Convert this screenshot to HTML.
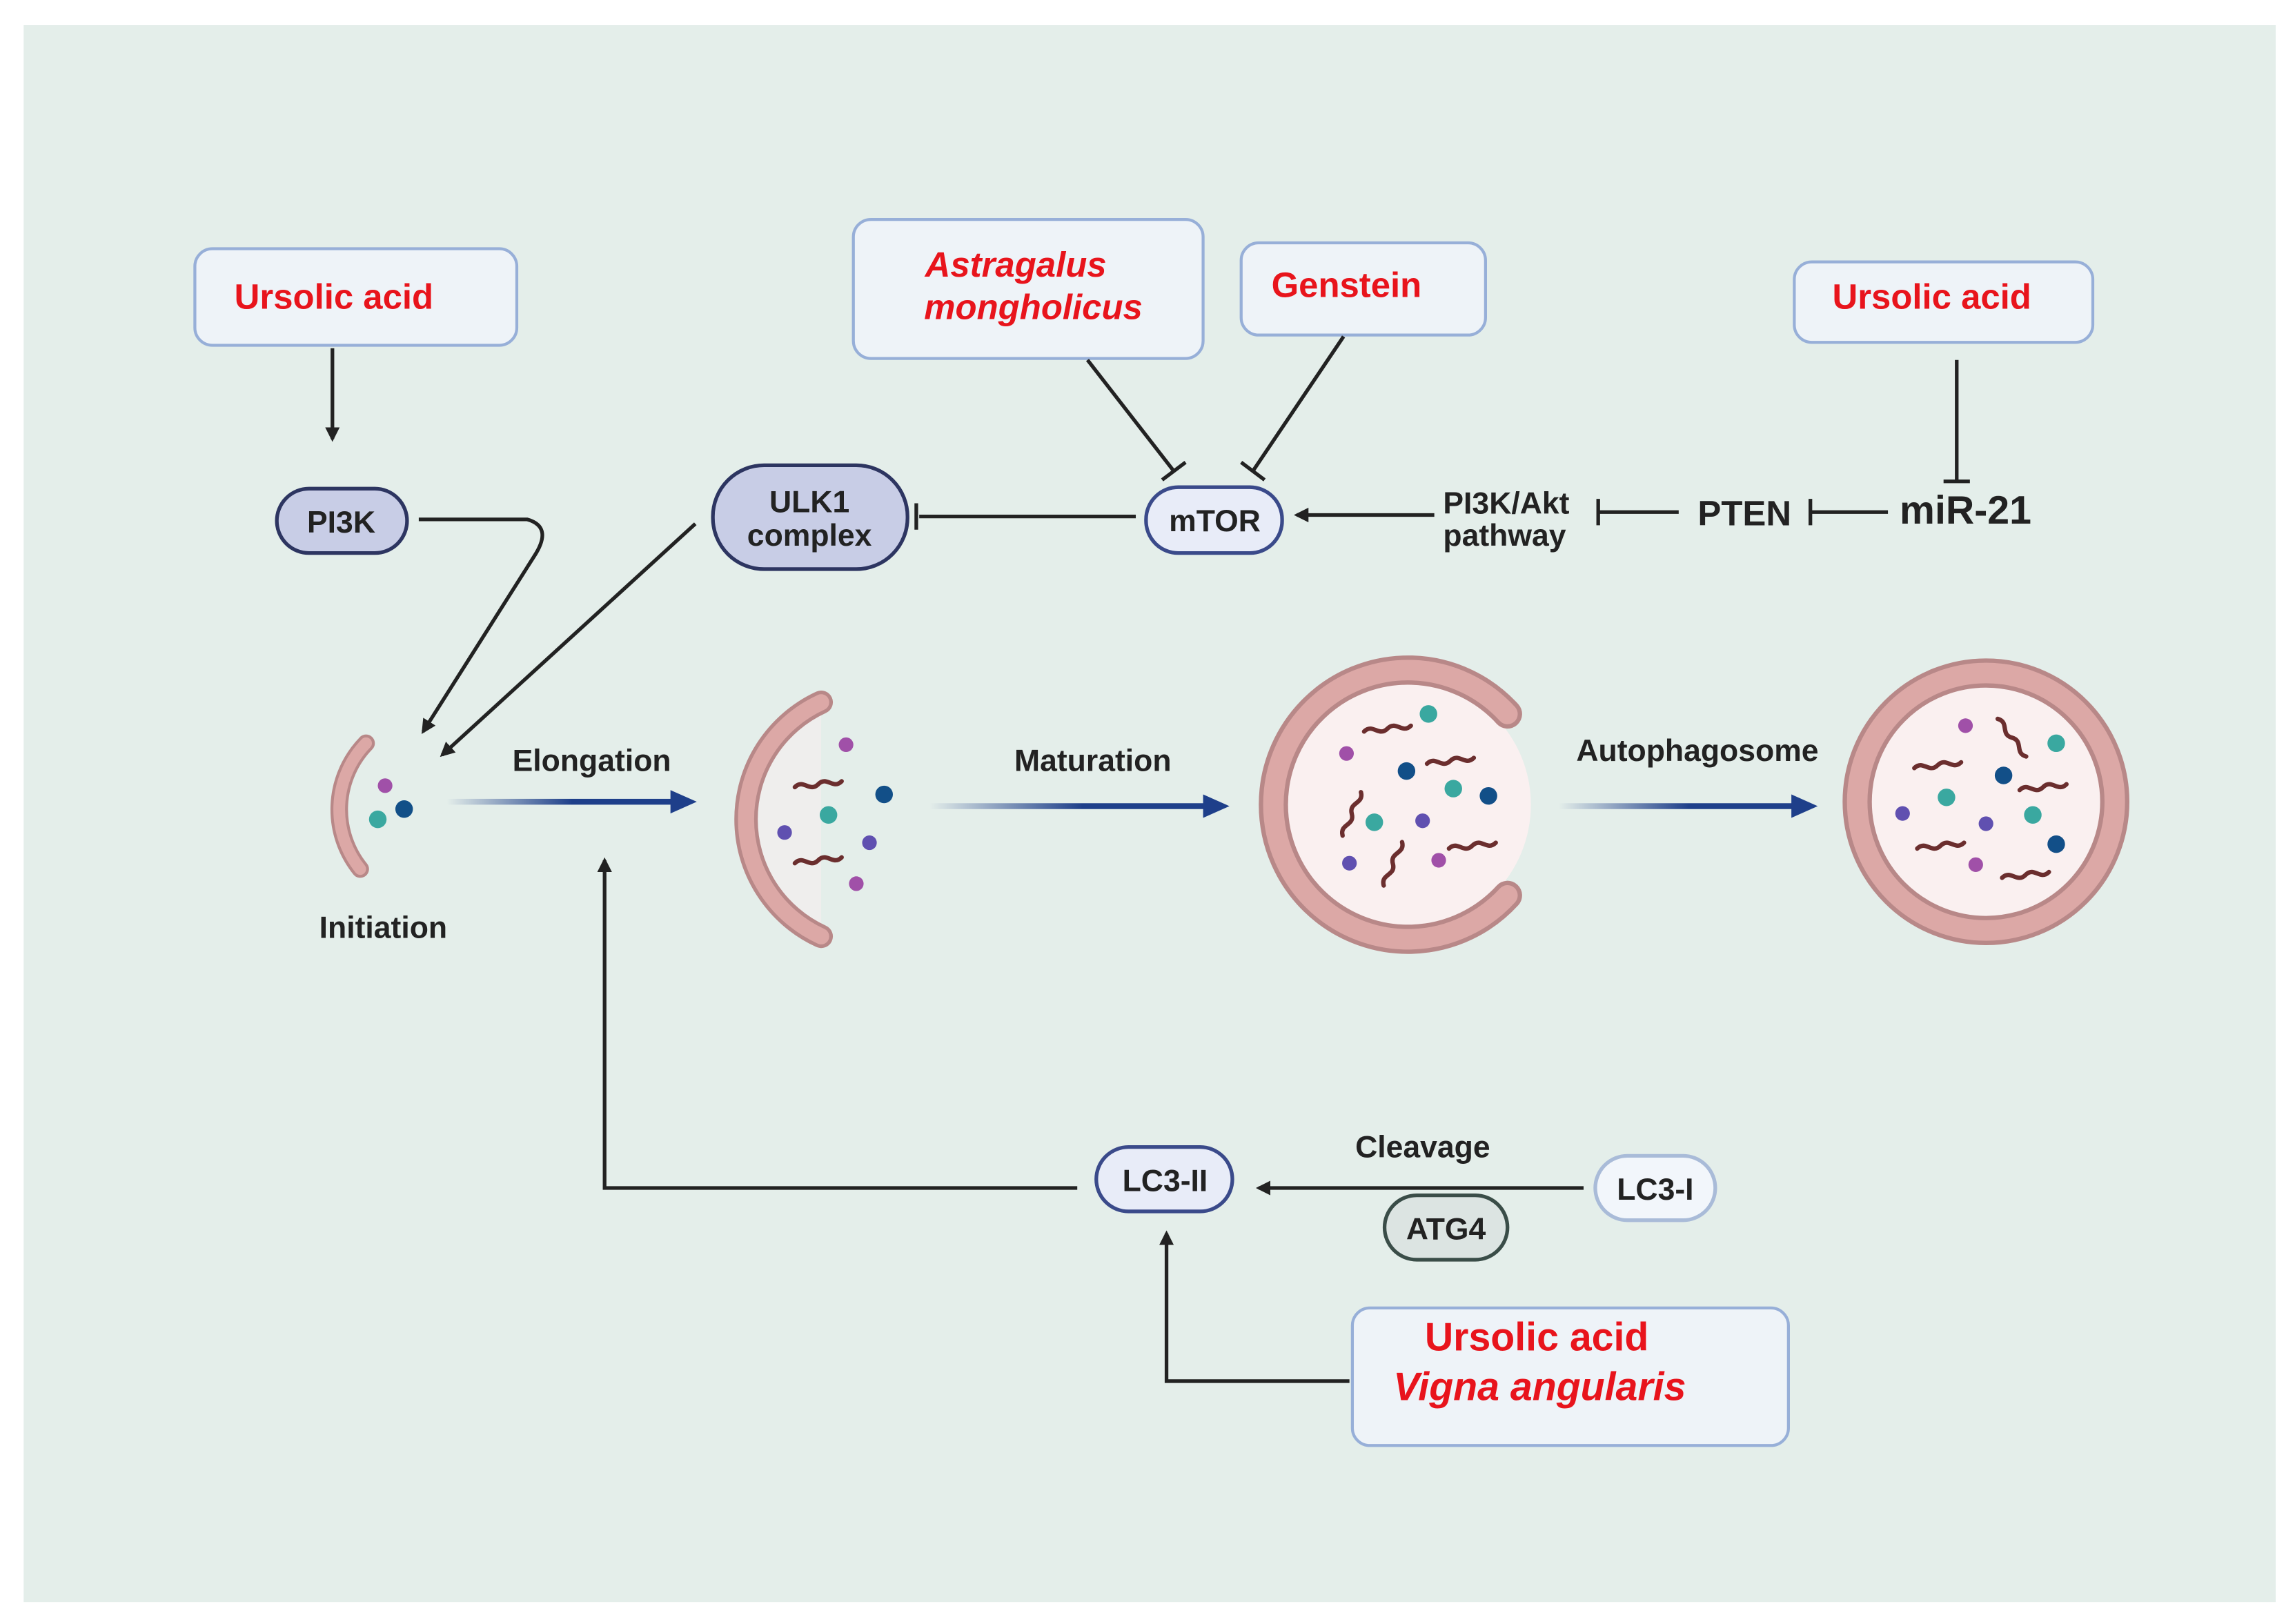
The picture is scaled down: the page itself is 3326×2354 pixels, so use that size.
<!DOCTYPE html>
<html><head><meta charset="utf-8"><style>
html,body{margin:0;padding:0;background:#fff}
svg{display:block}
text{font-family:"Liberation Sans",Arial,sans-serif;font-weight:bold}
</style></head><body>
<svg width="3326" height="2354" viewBox="0 0 1568 1110" xmlns="http://www.w3.org/2000/svg">
<defs>
<marker id="ah" markerWidth="10" markerHeight="10" refX="8" refY="5" orient="auto" markerUnits="userSpaceOnUse" viewBox="0 0 10 10"><path d="M0,0 L10,5 L0,10 z" fill="#222"/></marker>
<linearGradient id="gb" x1="0" x2="1" y1="0" y2="0"><stop offset="0" stop-color="#1e3f8a" stop-opacity="0"/><stop offset="0.55" stop-color="#1e3f8a"/></linearGradient>
<g id="wig"><path d="M0,0 c6,-6 10,4 16,-2 c6,-6 10,4 16,-2" fill="none" stroke="#6b2e2e" stroke-width="3" stroke-linecap="round"/></g>
</defs>
<rect x="0" y="0" width="1568" height="1110" fill="#fff"/>
<rect x="16" y="17" width="1539" height="1078" fill="#e4eeea"/>

<!-- boxes -->
<g fill="#eef3f8" stroke="#97afd8" stroke-width="2">
<rect x="133" y="170" width="220" height="66" rx="12"/>
<rect x="583" y="150" width="239" height="95" rx="12"/>
<rect x="848" y="166" width="167" height="63" rx="12"/>
<rect x="1226" y="179" width="204" height="55" rx="12"/>
<rect x="924" y="894" width="298" height="94" rx="12"/>
</g>
<g fill="#e8141c" font-size="24">
<text x="160" y="211">Ursolic acid</text>
<text x="694" y="189" text-anchor="middle" font-style="italic">Astragalus</text>
<text x="706" y="218" text-anchor="middle" font-style="italic">mongholicus</text>
<text x="920" y="203" text-anchor="middle">Genstein</text>
<text x="1320" y="211" text-anchor="middle">Ursolic acid</text>
<text x="1050" y="923" text-anchor="middle" font-size="27">Ursolic acid</text>
<text x="1052" y="957" text-anchor="middle" font-size="27" font-style="italic">Vigna angularis</text>
</g>

<!-- pills -->
<rect x="189" y="334" width="89" height="44" rx="22" fill="#c8cde6" stroke="#2d3561" stroke-width="2.5"/>
<text x="233" y="364" text-anchor="middle" font-size="21" fill="#222">PI3K</text>
<rect x="487" y="318" width="133" height="71" rx="35" fill="#c8cde6" stroke="#2d3561" stroke-width="2.5"/>
<text x="553" y="350" text-anchor="middle" font-size="21" fill="#222">ULK1</text>
<text x="553" y="373" text-anchor="middle" font-size="21" fill="#222">complex</text>
<rect x="783" y="333" width="93" height="45" rx="22" fill="#e8ecf8" stroke="#3a4a8a" stroke-width="2.5"/>
<text x="830" y="363" text-anchor="middle" font-size="21" fill="#222">mTOR</text>
<rect x="749" y="784" width="93" height="44" rx="22" fill="#e8ecf8" stroke="#3a4a8a" stroke-width="2.5"/>
<text x="796" y="814" text-anchor="middle" font-size="21" fill="#222">LC3-II</text>
<rect x="1090" y="790" width="82" height="44" rx="22" fill="#f2f6fb" stroke="#a9bbd8" stroke-width="2.5"/>
<text x="1131" y="820" text-anchor="middle" font-size="21" fill="#222">LC3-I</text>
<rect x="946" y="817" width="84" height="44" rx="22" fill="#dce4e2" stroke="#3a4d48" stroke-width="2.5"/>
<text x="988" y="847" text-anchor="middle" font-size="21" fill="#222">ATG4</text>

<!-- text labels -->
<g fill="#222" font-size="21">
<text x="986" y="351">PI3K/Akt</text>
<text x="986" y="373">pathway</text>
<text x="1160" y="359" font-family="Liberation Serif" font-weight="normal" font-size="24">PTEN</text>
<text x="1298" y="358" font-size="27">miR-21</text>
<text x="350" y="527">Elongation</text>
<text x="693" y="527">Maturation</text>
<text x="1077" y="520">Autophagosome</text>
<text x="218" y="641">Initiation</text>
<text x="926" y="791">Cleavage</text>
</g>

<!-- connectors -->
<g stroke="#222" stroke-width="2.5" fill="none">
<path d="M227,238 V300" marker-end="url(#ah)"/>
<path d="M286,355 H360 Q378,360 365,380 L289,500" marker-end="url(#ah)"/>
<path d="M475,358 L302,516" marker-end="url(#ah)"/>
<path d="M776,353 H628 M626,344 V362"/>
<path d="M743,246 L802,322 M794,328 L810,316"/>
<path d="M918,230 L856,322 M848,316 L864,328"/>
<path d="M980,352 H886" marker-end="url(#ah)"/>
<path d="M1147,350 H1093 M1092,341 V359"/>
<path d="M1290,350 H1238 M1237,341 V359"/>
<path d="M1337,246 V328 M1328,329 H1346"/>
<path d="M1082,812 H860" marker-end="url(#ah)"/>
<path d="M736,812 H413 V588" marker-end="url(#ah)"/>
<path d="M922,944 H797 V843" marker-end="url(#ah)"/>
</g>

<!-- blue arrows -->
<rect x="305" y="546" width="156" height="4" fill="url(#gb)"/>
<path d="M458,540 L476,548 L458,556 z" fill="#1e3f8a"/>
<rect x="635" y="549" width="190" height="4" fill="url(#gb)"/>
<path d="M822,543 L840,551 L822,559 z" fill="#1e3f8a"/>
<rect x="1065" y="549" width="162" height="4" fill="url(#gb)"/>
<path d="M1224,543 L1242,551 L1224,559 z" fill="#1e3f8a"/>

<!-- vesicles -->
<!-- initiation -->
<path d="M250,508 A65,65 0 0 0 246,594" fill="none" stroke="#b88888" stroke-width="12" stroke-linecap="round"/>
<path d="M250,508 A65,65 0 0 0 246,594" fill="none" stroke="#dca8a6" stroke-width="8" stroke-linecap="round"/>
<circle cx="263" cy="537" r="5" fill="#a050a8"/><circle cx="258" cy="560" r="6" fill="#3aa8a0"/><circle cx="276" cy="553" r="6" fill="#124f88"/>
<!-- elongation -->
<path d="M561,480 A88,88 0 0 0 561,640 Z" fill="#f7eeee" opacity="0.6"/>
<path d="M561,480 A88,88 0 0 0 561,640" fill="none" stroke="#b88888" stroke-width="16" stroke-linecap="round"/>
<path d="M561,480 A88,88 0 0 0 561,640" fill="none" stroke="#dca8a6" stroke-width="11" stroke-linecap="round"/>
<circle cx="578" cy="509" r="5" fill="#a050a8"/><circle cx="604" cy="543" r="6" fill="#124f88"/><circle cx="566" cy="557" r="6" fill="#3aa8a0"/>
<circle cx="536" cy="569" r="5" fill="#6050b0"/><circle cx="594" cy="576" r="5" fill="#6050b0"/><circle cx="585" cy="604" r="5" fill="#a050a8"/>
<use href="#wig" x="543" y="538"/><use href="#wig" x="543" y="590"/>
<!-- maturation -->
<circle cx="960" cy="550" r="86" fill="#faf0f0"/>
<path d="M1030,488 A92,92 0 1 0 1030,612" fill="none" stroke="#b88888" stroke-width="20" stroke-linecap="round"/>
<path d="M1030,488 A92,92 0 1 0 1030,612" fill="none" stroke="#dca8a6" stroke-width="14" stroke-linecap="round"/>
<circle cx="976" cy="488" r="6" fill="#3aa8a0"/><circle cx="961" cy="527" r="6" fill="#124f88"/><circle cx="993" cy="539" r="6" fill="#3aa8a0"/>
<circle cx="1017" cy="544" r="6" fill="#124f88"/><circle cx="939" cy="562" r="6" fill="#3aa8a0"/><circle cx="972" cy="561" r="5" fill="#6050b0"/>
<circle cx="920" cy="515" r="5" fill="#a050a8"/><circle cx="922" cy="590" r="5" fill="#6050b0"/><circle cx="983" cy="588" r="5" fill="#a050a8"/>
<use href="#wig" x="932" y="500"/><use href="#wig" x="975" y="522"/><use href="#wig" x="908" y="565" transform="rotate(-60 918 560)"/><use href="#wig" x="990" y="580"/><use href="#wig" x="932" y="598" transform="rotate(-60 945 590)"/>
<!-- autophagosome -->
<circle cx="1357" cy="548" r="88" fill="#faf0f0" stroke="#b88888" stroke-width="20"/>
<circle cx="1357" cy="548" r="88" fill="none" stroke="#dca8a6" stroke-width="14"/>
<circle cx="1343" cy="496" r="5" fill="#a050a8"/><circle cx="1405" cy="508" r="6" fill="#3aa8a0"/><circle cx="1369" cy="530" r="6" fill="#124f88"/>
<circle cx="1330" cy="545" r="6" fill="#3aa8a0"/><circle cx="1389" cy="557" r="6" fill="#3aa8a0"/><circle cx="1300" cy="556" r="5" fill="#6050b0"/>
<circle cx="1357" cy="563" r="5" fill="#6050b0"/><circle cx="1405" cy="577" r="6" fill="#124f88"/><circle cx="1350" cy="591" r="5" fill="#a050a8"/>
<use href="#wig" x="1308" y="525"/><use href="#wig" x="1380" y="540"/><use href="#wig" x="1310" y="580"/><use href="#wig" x="1368" y="600"/><use href="#wig" x="1360" y="500" transform="rotate(60 1370 500)"/>
</svg>
</body></html>
